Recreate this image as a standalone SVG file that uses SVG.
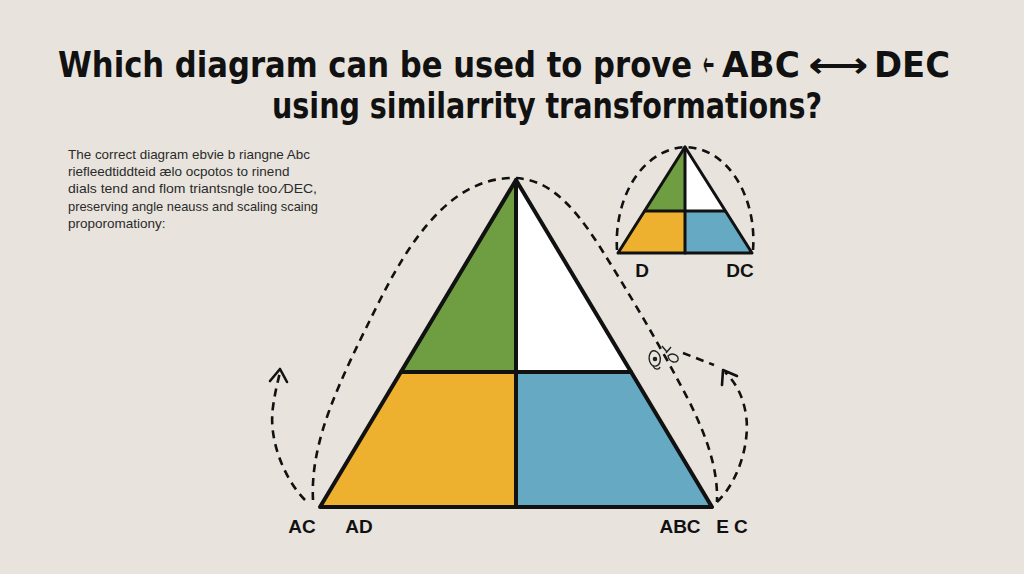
<svg xmlns="http://www.w3.org/2000/svg" width="1024" height="574" viewBox="0 0 1024 574">
<style>
.title{font-family:"DejaVu Sans Condensed","DejaVu Sans","Liberation Sans",sans-serif;font-stretch:condensed;font-weight:bold;font-size:35px;fill:#111}
.para{font-family:"Liberation Sans","Open Sans",sans-serif;font-size:13.5px;fill:#2a2a2a}
.lbl{font-family:"Liberation Sans","Inter",sans-serif;font-weight:bold;font-size:19px;fill:#111;text-anchor:middle}
.edge{fill:none;stroke:#111;stroke-linejoin:round;stroke-linecap:round}
.dash{fill:none;stroke:#111;stroke-width:2.6;stroke-dasharray:8 6;stroke-linecap:butt}
.head{fill:none;stroke:#111;stroke-width:2.6;stroke-linecap:round;stroke-linejoin:round}
.green{fill:#6e9d42}.white{fill:#ffffff}.yellow{fill:#eeb12f}.blue{fill:#66a9c3}
</style>
<rect width="1024" height="574" fill="#e8e4dd"/>
<g id="title">
<text class="title" x="58" y="77" font-size="34" textLength="634" lengthAdjust="spacingAndGlyphs">Which diagram can be used to prove</text>
<text class="title" font-size="38" transform="translate(703,76) scale(0.42,1)">←</text>
<text class="title" x="722" y="77" textLength="78" lengthAdjust="spacingAndGlyphs">ABC</text>
<text class="title" x="808" y="77" font-size="36" textLength="60" lengthAdjust="spacingAndGlyphs">⟷</text>
<text class="title" x="874" y="77" textLength="76" lengthAdjust="spacingAndGlyphs">DEC</text>
<text class="title" x="272" y="118" textLength="550" lengthAdjust="spacingAndGlyphs">using similarrity transformations?</text>
</g>
<g id="description">
<text class="para" x="68" y="159" textLength="242" lengthAdjust="spacingAndGlyphs">The correct diagram ebvie b riangne Abc</text>
<text class="para" x="68" y="176">riefleedtiddteid ælo ocpotos to rinend</text>
<text class="para" x="68" y="193" textLength="249" lengthAdjust="spacingAndGlyphs">dials tend and flom triantsngle too.⁄DEC,</text>
<text class="para" x="68" y="211" textLength="250" lengthAdjust="spacingAndGlyphs">preserving angle neauss and scaling scaing</text>
<text class="para" x="68" y="228">proporomationy:</text>
</g>
<g id="connectors">
<path class="dash" d="M313,500 C310,440 340,380 380,300 C420,220 460,180 510,178 C545,177 570,200 600,247 C630,295 660,345 690,403 C708,440 718,470 717,502"/>
<path class="dash" d="M305,500 C285,480 268,440 273,407 C275,392 278,381 280,372"/>
<polyline class="head" points="270,381 280,369 287,382"/>
<path class="dash" d="M717,502 C740,480 750,440 746,415 C743,395 735,382 725,372"/>
<polyline class="head" points="722,385 723,370 737,376"/>
<path class="dash" d="M683,353 L714,365"/>
<path class="dash" d="M617,250 C614,200 640,150 685,147 C730,148 757,200 753,250"/>
<g id="scribble" fill="none" stroke="#222" stroke-width="1.4">
<path d="M651,352 C647,358 650,367 656,366 C661,365 662,356 657,352 C654,350 652,351 651,352"/>
<path d="M668,356 C672,352 679,355 678,360 C676,364 669,362 668,356 Z"/>
<path d="M662,346 L667,352 M671,347 L666,353"/>
<path d="M653,366 C655,370 659,370 660,367"/>
<circle cx="655" cy="359" r="1.6" fill="#222"/>
</g>
</g>
<g id="big-triangle">
<polygon class="green" points="516,180 516,372 401,372"/>
<polygon class="white" points="516,180 631,372 516,372"/>
<polygon class="yellow" points="401,372 516,372 516,507 320,507"/>
<polygon class="blue" points="516,372 631,372 712,507 516,507"/>
<polygon class="edge" stroke-width="4" points="516,180 712,507 320,507"/>
<line class="edge" stroke-width="4" x1="401" y1="372" x2="631" y2="372"/>
<line class="edge" stroke-width="4" x1="516" y1="180" x2="516" y2="507"/>
</g>
<g id="small-triangle">
<polygon class="green" points="685,147 685,211 645,211"/>
<polygon class="white" points="685,147 725,211 685,211"/>
<polygon class="yellow" points="645,211 685,211 685,253 618,253"/>
<polygon class="blue" points="685,211 725,211 752,253 685,253"/>
<polygon class="edge" stroke-width="3" points="685,147 752,253 618,253"/>
<line class="edge" stroke-width="3" x1="645" y1="211" x2="725" y2="211"/>
<line class="edge" stroke-width="3" x1="685" y1="147" x2="685" y2="253"/>
</g>
<g id="labels">
<text class="lbl" x="302" y="533">AC</text>
<text class="lbl" x="359" y="533">AD</text>
<text class="lbl" x="680" y="533">ABC</text>
<text class="lbl" x="732" y="533">E C</text>
<text class="lbl" x="642" y="277">D</text>
<text class="lbl" x="740" y="277">DC</text>
</g>
</svg>
